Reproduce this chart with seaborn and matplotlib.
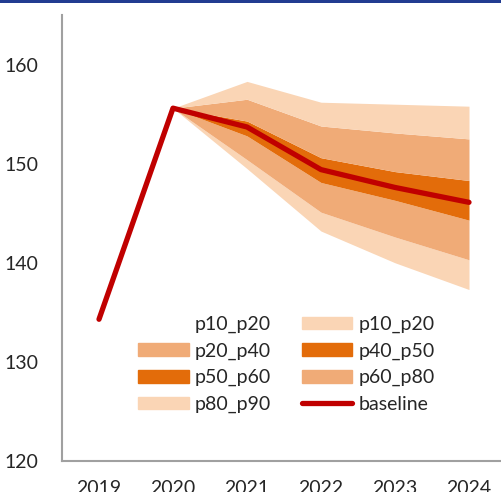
import numpy as np
import pandas as pd
import seaborn as sns
import matplotlib.pyplot as plt
from matplotlib.patches import Patch, Rectangle
from matplotlib.lines import Line2D

years = ['2019', '2020', '2021', '2022', '2023', '2024']
baseline = [134.3, 155.6, 153.7, 149.4, 147.6, 146.1]
p10 = [np.nan, 155.6, 149.5, 143.2, 140.0, 137.3]
p20 = [np.nan, 155.6, 150.4, 145.1, 142.6, 140.3]
p40 = [np.nan, 155.6, 152.8, 148.1, 146.3, 144.3]
p60 = [np.nan, 155.6, 154.3, 150.6, 149.2, 148.3]
p80 = [np.nan, 155.6, 156.5, 153.8, 153.1, 152.5]
p90 = [np.nan, 155.6, 158.3, 156.2, 156.0, 155.8]

light = '#FAD5B5'
medium = '#F0AB77'
dark = '#E36C0A'
red = '#C00000'
axis_grey = '#A0A0A0'

sns.set_style('white')
plt.rcParams['font.family'] = ['Lato', 'DejaVu Sans']

df = pd.DataFrame({'pos': np.arange(len(years)), 'baseline': baseline})

fig = plt.figure(figsize=(5.02, 4.92), dpi=100)
ax = fig.add_axes([62 / 502, 1 - 461 / 492, 444 / 502, 446 / 492])

x = df['pos']
bands = [(p10, p20, light), (p20, p40, medium), (p40, baseline, dark),
         (baseline, p60, dark), (p60, p80, medium), (p80, p90, light)]
for lo, hi, c in bands:
    ax.fill_between(x, lo, hi, color=c, lw=0)

sns.lineplot(data=df, x='pos', y='baseline', color=red, lw=3.8, ax=ax,
             solid_capstyle='round')

ax.set_xlim(-0.5, 5.5)
ax.set_ylim(120, 165)
ax.set_yticks([120, 130, 140, 150, 160])
ax.set_xticks(np.arange(-0.5, 6, 1))
ax.set_xticklabels([])
ax.set_xticks(np.arange(len(years)), minor=True)
ax.set_xticklabels(years, minor=True)
ax.tick_params(axis='x', which='minor', length=0, pad=14, labelsize=14)
ax.tick_params(axis='x', which='major', length=6, width=1.2, color=axis_grey, direction='out')
ax.tick_params(axis='y', length=6, width=1.2, color=axis_grey, direction='out', pad=11, labelsize=14)
ax.set_xlabel('')
ax.set_ylabel('')
sns.despine(ax=ax)
for s in ['left', 'bottom']:
    ax.spines[s].set_color(axis_grey)
    ax.spines[s].set_linewidth(1.5)

# legend, row-major order like the original
handles = [Patch(facecolor='none', edgecolor='none'), Patch(color=medium),
           Patch(color=dark), Patch(color=light),
           Patch(color=light), Patch(color=dark), Patch(color=medium),
           Line2D([], [], color=red, lw=3.8, solid_capstyle='round')]
labels = ['p10_p20', 'p20_p40', 'p50_p60', 'p80_p90',
          'p10_p20', 'p40_p50', 'p60_p80', 'baseline']
fig.legend(handles, labels, ncol=2, frameon=False, fontsize=14,
           loc='upper left', bbox_to_anchor=(138 / 502, 1 - 316 / 492),
           borderpad=0, borderaxespad=0, handlelength=2.6, handleheight=0.62,
           handletextpad=0.3, labelspacing=0.48, columnspacing=1.6)

# blue rule across the top
fig.add_artist(Rectangle((0, 1 - 3 / 492), 1, 3 / 492, transform=fig.transFigure,
                         color='#223C91', lw=0))

fig.savefig('out.png', dpi=100)
